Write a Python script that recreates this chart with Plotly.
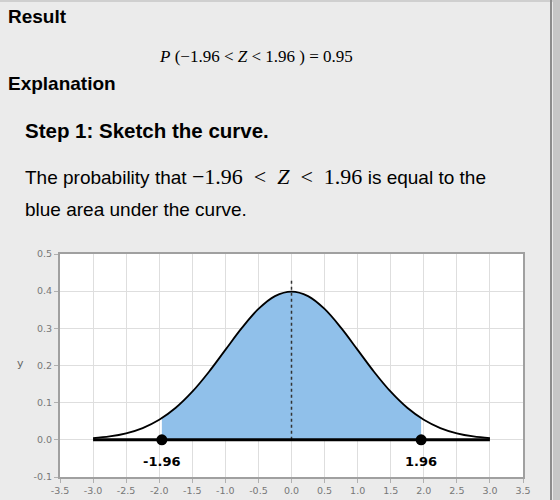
import plotly.graph_objects as go

# ---- data ----
curve_x = [-3.0, -2.75, -2.5, -2.25, -2.0, -1.75, -1.5, -1.25, -1.0, -0.75, -0.5, -0.25, 0.0,
           0.25, 0.5, 0.75, 1.0, 1.25, 1.5, 1.75, 2.0, 2.25, 2.5, 2.75, 3.0]
curve_y = [0.0044, 0.0091, 0.0175, 0.0317, 0.054, 0.0863, 0.1295, 0.1826, 0.242, 0.3011, 0.3521, 0.3867, 0.3989,
           0.3867, 0.3521, 0.3011, 0.242, 0.1826, 0.1295, 0.0863, 0.054, 0.0317, 0.0175, 0.0091, 0.0044]
fill_x = [-1.96, -1.75, -1.5, -1.25, -1.0, -0.75, -0.5, -0.25, 0.0, 0.25, 0.5, 0.75, 1.0, 1.25, 1.5, 1.75, 1.96]
fill_y = [0.0584, 0.0863, 0.1295, 0.1826, 0.242, 0.3011, 0.3521, 0.3867, 0.3989, 0.3867, 0.3521, 0.3011, 0.242,
          0.1826, 0.1295, 0.0863, 0.0584]
base_x = [-3.0, 3.0]
base_y = [0.0, 0.0]
crit_x = [-1.96, 1.96]
crit_y = [0.0, 0.0]
crit_labels = ["-1.96", "1.96"]
mean_x = [0.0, 0.0]
mean_y = [0.0, 0.435]
x_ticks = [-3.5, -3.0, -2.5, -2.0, -1.5, -1.0, -0.5, 0.0, 0.5, 1.0, 1.5, 2.0, 2.5, 3.0, 3.5]
y_ticks = [-0.1, 0.0, 0.1, 0.2, 0.3, 0.4, 0.5]

W, H = 560, 500
L, R, T, B = 60, 37, 254, 23
PW, PH = W - L - R, H - T - B


def px(x):
    return (x - L) / PW


def py(y):
    return (H - B - y) / PH


fig = go.Figure()
fig.add_trace(go.Scatter(x=fill_x, y=fill_y, mode="lines", line=dict(width=0, shape="spline", color="#90c0ea"),
                         fill="tozeroy", fillcolor="#90c0ea", hoverinfo="skip", showlegend=False))
fig.add_trace(go.Scatter(x=curve_x, y=curve_y, mode="lines", line=dict(width=1.8, shape="spline", color="black"),
                         showlegend=False))
fig.add_trace(go.Scatter(x=mean_x, y=mean_y, mode="lines", line=dict(width=1.5, dash="dot", color="#333"),
                         showlegend=False))
fig.add_trace(go.Scatter(x=base_x, y=base_y, mode="lines", line=dict(width=3, color="black"), showlegend=False))
fig.add_trace(go.Scatter(x=crit_x, y=crit_y, mode="markers", marker=dict(size=11, color="black"), showlegend=False))

anns = []
for xv, lab in zip(crit_x, crit_labels):
    anns.append(dict(x=xv, y=0, xref="x", yref="y", text="<b>" + lab + "</b>", showarrow=False, yshift=-22,
                     font=dict(family="DejaVu Sans", size=13, color="black")))

sans = "Liberation Sans, Arial, sans-serif"
serif = "Liberation Serif, Times New Roman, serif"
sp = "\u2002"
anns += [
    dict(x=px(6), y=py(16), xref="paper", yref="paper", xanchor="left", yanchor="middle", showarrow=False,
         text="<b>Result</b>", font=dict(family=sans, size=19, color="black")),
    dict(x=px(256), y=py(56), xref="paper", yref="paper", xanchor="center", yanchor="middle", showarrow=False,
         text="<i>P</i> (−1.96 &lt; <i>Z</i> &lt; 1.96 ) = 0.95", font=dict(family=serif, size=17, color="black")),
    dict(x=px(6), y=py(83), xref="paper", yref="paper", xanchor="left", yanchor="middle", showarrow=False,
         text="<b>Explanation</b>", font=dict(family=sans, size=19, color="black")),
    dict(x=px(23), y=py(130), xref="paper", yref="paper", xanchor="left", yanchor="middle", showarrow=False,
         text="<b>Step 1: Sketch the curve.</b>", font=dict(family=sans, size=20.5, color="black")),
    dict(x=px(23), y=py(177), xref="paper", yref="paper", xanchor="left", yanchor="middle", showarrow=False,
         text="The probability that <span style=\"font-family:'Liberation Serif', serif;font-size:22px\">−1.96"
              + sp + "&lt;" + sp + "<i>Z</i>" + sp + "&lt;" + sp + "1.96</span> is equal to the",
         font=dict(family=sans, size=19, color="black")),
    dict(x=px(23), y=py(209), xref="paper", yref="paper", xanchor="left", yanchor="middle", showarrow=False,
         text="blue area under the curve.", font=dict(family=sans, size=19, color="black")),
    dict(x=px(20), y=py(363), xref="paper", yref="paper", xanchor="center", yanchor="middle", showarrow=False,
         text="y", font=dict(family="DejaVu Sans", size=11, color="#666")),
]

shapes = [
    # shadow and white plot area
    dict(type="rect", xref="paper", yref="paper", x0=px(L + 2), x1=px(L + PW + 2), y0=py(H - B + 2), y1=py(T + 2),
         fillcolor="#c4c4c4", line=dict(width=0), layer="below"),
    dict(type="rect", xref="paper", yref="paper", x0=0, x1=1, y0=0, y1=1,
         fillcolor="white", line=dict(width=0), layer="below"),
    # page decorations
    dict(type="line", xref="paper", yref="paper", x0=px(0), x1=px(W), y0=py(1), y1=py(1),
         line=dict(color="#cfcfcf", width=2)),
    dict(type="rect", xref="paper", yref="paper", x0=px(553), x1=px(W), y0=py(H), y1=py(0),
         fillcolor="#c6c6c6", line=dict(width=0)),
    dict(type="line", xref="paper", yref="paper", x0=px(551), x1=px(551), y0=py(H), y1=py(0),
         line=dict(color="#8c8c8c", width=2)),
]

axis_common = dict(showgrid=True, gridcolor="#dedede", gridwidth=1, zeroline=False, showline=True,
                   linecolor="#a0a0a0", linewidth=2, mirror=True, ticks="outside", ticklen=4,
                   tickcolor="#b0b0b0", tickfont=dict(family="DejaVu Sans", size=9.5, color="#777"))
fig.update_xaxes(range=[-3.5, 3.5], tickvals=x_ticks, ticktext=["%.1f" % v for v in x_ticks], **axis_common)
fig.update_yaxes(range=[-0.1, 0.5], tickvals=y_ticks, ticktext=["%.1f" % v for v in y_ticks], **axis_common)

fig.update_layout(width=W, height=H, margin=dict(l=L, r=R, t=T, b=B, autoexpand=False),
                  paper_bgcolor="#ebebeb", plot_bgcolor="white", annotations=anns, shapes=shapes,
                  showlegend=False)
fig.write_html("out.html", config={"displayModeBar": False})
